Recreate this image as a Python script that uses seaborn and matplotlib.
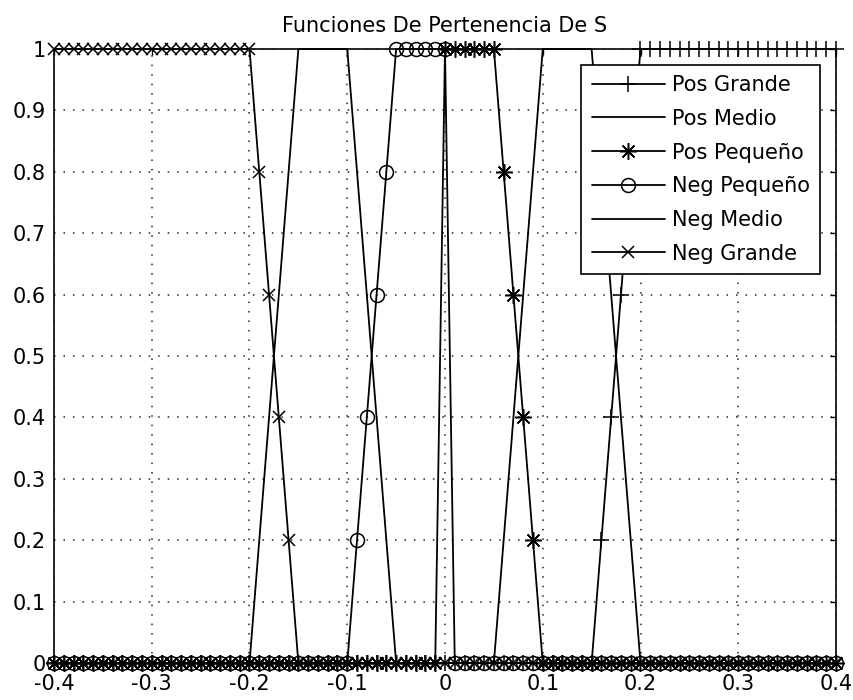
import numpy as np
import matplotlib
matplotlib.use("Agg")
import matplotlib.pyplot as plt
import seaborn as sns

# sample grid (step 0.01, like the MATLAB vector -0.4:0.01:0.4)
x_vals = np.linspace(-0.4, 0.4, 81)

# membership values, one per sample point
pos_grande = [0] * 56 + [0.2, 0.4, 0.6, 0.8] + [1] * 21
pos_medio = [0] * 46 + [0.2, 0.4, 0.6, 0.8] + [1] * 6 + [0.8, 0.6, 0.4, 0.2] + [0] * 21
pos_pequeno = [0] * 40 + [1] * 6 + [0.8, 0.6, 0.4, 0.2] + [0] * 31
neg_pequeno = [0] * 31 + [0.2, 0.4, 0.6, 0.8] + [1] * 6 + [0] * 40
neg_medio = [0] * 21 + [0.2, 0.4, 0.6, 0.8] + [1] * 6 + [0.8, 0.6, 0.4, 0.2] + [0] * 46
neg_grande = [1] * 21 + [0.8, 0.6, 0.4, 0.2] + [0] * 56

series_names = ["Pos Grande", "Pos Medio", "Pos Pequeño", "Neg Pequeño", "Neg Medio", "Neg Grande"]
series_values = [pos_grande, pos_medio, pos_pequeno, neg_pequeno, neg_medio, neg_grande]
series_markers = ["+", None, (8, 2, 0), "o", None, "x"]
marker_sizes = [11, 0, 12, 10, 0, 9]

x_ticks = [-0.4, -0.3, -0.2, -0.1, 0, 0.1, 0.2, 0.3, 0.4]
x_tick_labels = ["-0.4", "-0.3", "-0.2", "-0.1", "0", "0.1", "0.2", "0.3", "0.4"]
y_ticks = [0, 0.1, 0.2, 0.3, 0.4, 0.5, 0.6, 0.7, 0.8, 0.9, 1]
y_tick_labels = ["0", "0.1", "0.2", "0.3", "0.4", "0.5", "0.6", "0.7", "0.8", "0.9", "1"]

sns.set_style("white")
plt.rcParams["font.family"] = ["DejaVu Sans"]
plt.rcParams["font.size"] = 15
plt.rcParams["text.color"] = "black"

fig = plt.figure(figsize=(8.54, 7.0), dpi=100)
ax = fig.add_axes([54 / 854, 1 - 663 / 700, 782 / 854, 614 / 700])

for name, vals, mk, ms in zip(series_names, series_values, series_markers, marker_sizes):
    sns.lineplot(
        x=x_vals, y=vals, ax=ax, color="black", linewidth=1.3,
        marker=mk, markersize=ms, markerfacecolor="none", markeredgecolor="black",
        markeredgewidth=1.1, label=name, clip_on=False, zorder=3,
    )

ax.set_xlim(-0.4, 0.4)
ax.set_ylim(0, 1)
ax.set_xticks(x_ticks)
ax.set_xticklabels(x_tick_labels)
ax.set_yticks(y_ticks)
ax.set_yticklabels(y_tick_labels)
ax.set_xlabel("")
ax.set_ylabel("")

ax.grid(True, color="#222222", linewidth=1.1, linestyle=(0, (1, 5.2)))
ax.tick_params(direction="in", length=4, width=1, top=True, right=True,
               colors="black", labelcolor="black", labelsize=15)
ax.tick_params(axis="x", pad=8)
ax.tick_params(axis="y", pad=6)
for sp in ax.spines.values():
    sp.set_color("black")
    sp.set_linewidth(1.2)

ax.set_title("Funciones De Pertenencia De S", fontsize=15, pad=12, color="black")

leg = ax.legend(loc="upper right", frameon=True, fancybox=False, edgecolor="black",
                framealpha=1, fontsize=15, handlelength=3.5, handletextpad=0.35,
                labelspacing=0.66, borderaxespad=0.75, borderpad=0.5)
leg.get_frame().set_linewidth(1.2)
leg.set_zorder(5)
for t in leg.get_texts():
    t.set_color("black")

fig.savefig("out.png", dpi=100, facecolor="white")
